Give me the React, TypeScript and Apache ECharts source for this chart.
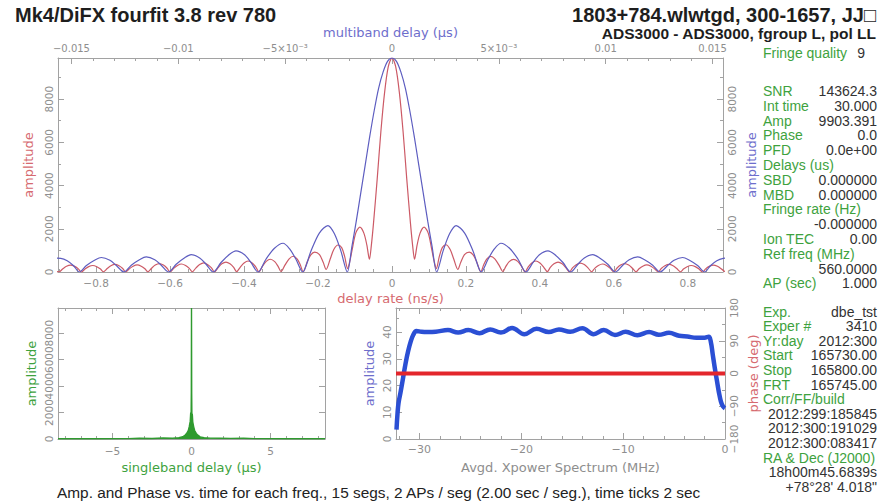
import React, { useEffect, useRef } from "react";
import * as echarts from "echarts";

// Peak correlation amplitude (also the top of the amplitude axes)
const AMP_MAX = 9903.391;

// Multiband delay function: [delay (µs), amplitude]
const mbdCurve: [number, number][] = [
  [-0.0158, 640], [-0.0155, 630], [-0.0152, 520], [-0.0149, 290], [-0.01463, 0],
  [-0.0143, 300], [-0.0139, 555], [-0.0136, 670], [-0.0132, 545], [-0.0129, 300], [-0.01254, 0],
  [-0.0122, 315], [-0.0118, 580], [-0.0115, 700], [-0.0111, 570], [-0.0108, 315], [-0.01045, 0],
  [-0.0101, 360], [-0.0097, 660], [-0.0094, 800], [-0.009, 650], [-0.0087, 360], [-0.00836, 0],
  [-0.008, 440], [-0.0076, 820], [-0.0073, 980], [-0.0069, 800], [-0.0066, 440], [-0.00627, 0],
  [-0.0059, 590], [-0.0055, 1100], [-0.0051, 1330], [-0.0048, 1080], [-0.0045, 600], [-0.00418, 0],
  [-0.0038, 950], [-0.0034, 1800], [-0.003, 2150], [-0.0027, 1780], [-0.0024, 1000], [-0.00209, 0],
  [-0.001881, 1150], [-0.001672, 2350], [-0.001463, 3650], [-0.001254, 4950], [-0.001045, 6250],
  [-0.000836, 7450], [-0.000627, 8500], [-0.000418, 9250], [-0.000209, 9750], [0, 9903],
  [0.000209, 9750], [0.000418, 9250], [0.000627, 8500], [0.000836, 7450], [0.001045, 6250],
  [0.001254, 4950], [0.001463, 3650], [0.001672, 2350], [0.001881, 1150], [0.00209, 0],
  [0.0024, 1000], [0.0027, 1780], [0.003, 2150], [0.0034, 1800], [0.0038, 950], [0.00418, 0],
  [0.0045, 600], [0.0048, 1080], [0.0051, 1330], [0.0055, 1100], [0.0059, 590], [0.00627, 0],
  [0.0066, 440], [0.0069, 800], [0.0073, 980], [0.0076, 820], [0.008, 440], [0.00836, 0],
  [0.0087, 360], [0.009, 650], [0.0094, 800], [0.0097, 660], [0.0101, 360], [0.01045, 0],
  [0.0108, 315], [0.0111, 570], [0.0115, 700], [0.0118, 580], [0.0122, 315], [0.01254, 0],
  [0.0129, 300], [0.0132, 545], [0.0136, 670], [0.0139, 555], [0.0143, 300], [0.01463, 0],
  [0.0149, 290], [0.0152, 520], [0.0155, 630], [0.0158, 650],
];

// Delay-rate function: [delay rate (ns/s), amplitude]
const rateCurve: [number, number][] = [
  [-0.91, 20], [-0.9, 10], [-0.89, 150], [-0.88, 265], [-0.869, 315], [-0.858, 260], [-0.848, 145], [-0.84, 0],
  [-0.83, 135], [-0.82, 250], [-0.809, 300], [-0.798, 245], [-0.788, 135], [-0.78, 10],
  [-0.77, 160], [-0.76, 290], [-0.749, 350], [-0.738, 290], [-0.728, 160], [-0.72, 0],
  [-0.71, 150], [-0.7, 270], [-0.689, 330], [-0.678, 270], [-0.668, 150], [-0.66, 10],
  [-0.65, 175], [-0.64, 320], [-0.629, 390], [-0.618, 320], [-0.608, 175], [-0.6, 0],
  [-0.59, 170], [-0.58, 305], [-0.569, 370], [-0.558, 300], [-0.548, 170], [-0.54, 10],
  [-0.53, 190], [-0.52, 345], [-0.509, 420], [-0.498, 340], [-0.488, 190], [-0.48, 0],
  [-0.47, 205], [-0.46, 380], [-0.449, 460], [-0.438, 380], [-0.428, 210], [-0.42, 15],
  [-0.41, 230], [-0.4, 420], [-0.389, 510], [-0.378, 420], [-0.368, 230], [-0.36, 0],
  [-0.35, 270], [-0.34, 490], [-0.329, 590], [-0.317, 480], [-0.308, 260], [-0.3, 20],
  [-0.289, 330], [-0.278, 610], [-0.267, 730], [-0.256, 600], [-0.248, 330], [-0.24, 0],
  [-0.23, 430], [-0.22, 780], [-0.209, 920], [-0.196, 800], [-0.186, 450], [-0.178, 120],
  [-0.167, 600], [-0.157, 1050], [-0.146, 1250], [-0.136, 1130], [-0.128, 720], [-0.12, 160],
  [-0.114, 500], [-0.108, 1000], [-0.098, 1800], [-0.087, 2076], [-0.076, 1800], [-0.068, 1250],
  [-0.061, 590], [-0.056, 1200], [-0.05, 2250], [-0.04, 4300], [-0.03, 6500], [-0.02, 8300],
  [-0.01, 9500], [0, 9903],
  [0.01, 9500], [0.02, 8300], [0.03, 6500], [0.04, 4300], [0.05, 2250], [0.056, 1200], [0.061, 590],
  [0.068, 1250], [0.076, 1800], [0.087, 2076], [0.098, 1800], [0.108, 1000], [0.114, 500], [0.12, 160],
  [0.128, 720], [0.136, 1130], [0.146, 1260], [0.157, 1050], [0.167, 600], [0.178, 120],
  [0.186, 450], [0.196, 800], [0.209, 920], [0.22, 780], [0.23, 430], [0.24, 0],
  [0.248, 330], [0.256, 600], [0.267, 724], [0.278, 610], [0.289, 330], [0.3, 20],
  [0.308, 260], [0.317, 480], [0.329, 585], [0.34, 490], [0.35, 270], [0.36, 0],
  [0.368, 230], [0.378, 420], [0.389, 510], [0.4, 420], [0.41, 230], [0.42, 15],
  [0.428, 210], [0.438, 380], [0.449, 460], [0.46, 380], [0.47, 205], [0.48, 0],
  [0.488, 190], [0.498, 340], [0.509, 415], [0.52, 345], [0.53, 190], [0.54, 10],
  [0.548, 170], [0.558, 300], [0.569, 370], [0.58, 305], [0.59, 170], [0.6, 0],
  [0.608, 175], [0.618, 320], [0.629, 390], [0.64, 320], [0.65, 175], [0.66, 10],
  [0.668, 150], [0.678, 270], [0.689, 330], [0.7, 270], [0.71, 150], [0.72, 0],
  [0.728, 160], [0.738, 290], [0.749, 350], [0.76, 290], [0.77, 160], [0.78, 10],
  [0.788, 135], [0.798, 245], [0.809, 300], [0.82, 250], [0.83, 135], [0.84, 0],
  [0.848, 145], [0.858, 260], [0.869, 320], [0.88, 265], [0.89, 150], [0.9, 10],
];

// Singleband delay function: [delay (µs), amplitude]
const sbdCurve: [number, number][] = [
  [-8.45, 15], [-6, 20], [-4, 25], [-3.3, 60], [-2.5, 40], [-1.8, 70], [-1.2, 60], [-0.8, 100],
  [-0.55, 170], [-0.4, 300], [-0.3, 430], [-0.2, 650], [-0.14, 950], [-0.08, 1350], [-0.05, 2000],
  [-0.03, 1100], [-0.012, 3500], [0, 9903], [0.012, 3500], [0.03, 1100], [0.05, 1900], [0.08, 1300],
  [0.14, 920], [0.2, 640], [0.3, 420], [0.4, 290], [0.55, 160], [0.8, 95], [1.2, 65], [1.8, 60],
  [2.5, 45], [3.3, 55], [4, 25], [6, 20], [8.45, 15],
];

// Averaged cross-power spectrum amplitude: [frequency (MHz), amplitude]
const spectrumAmp: [number, number][] = [
  [-32.25, 3.5], [-32.15, 9.6], [-32.05, 13.5], [-31.85, 17.5], [-31.6, 23], [-31.35, 28.5],
  [-31.1, 33], [-30.85, 36.5], [-30.6, 39], [-30.3, 40.4], [-29.8, 40.1], [-29.2, 40.0],
  [-28.4, 40.1], [-27.2, 40.75], [-26.2, 39.8], [-25.2, 40.75], [-24.1, 39.6], [-23.05, 41.0],
  [-22.0, 39.8], [-20.9, 41.5], [-19.7, 39.2], [-18.5, 41.25], [-17.3, 40.0], [-16.3, 41.0],
  [-15.2, 40.1], [-14.0, 41.4], [-12.9, 39.2], [-11.9, 40.75], [-10.8, 38.9], [-9.75, 40.1],
  [-8.6, 38.8], [-7.45, 40.0], [-6.5, 39.0], [-5.5, 39.7], [-4.5, 38.6], [-3.7, 38.3],
  [-2.8, 37.9], [-2.0, 37.9], [-1.6, 38.2], [-1.4, 36.5], [-1.2, 31.5], [-1.0, 26.5],
  [-0.8, 22], [-0.6, 17.5], [-0.4, 14], [-0.2, 12.2], [0, 11.5],
];

// Averaged cross-power spectrum phase: [frequency (MHz), phase (deg)]
const spectrumPhase: [number, number][] = [
  [-32.3, 0], [-24, 0], [-16, 0], [-8, 0], [0, 0],
];

// Top axis tick labels for the multiband delay scale
const mbdTickLabels: [number, string][] = [
  [-0.015, "\u22120.015"], [-0.01, "\u22120.01"], [-0.005, "\u22125\u00d710\u207b\u00b3"],
  [0, "0"], [0.005, "5\u00d710\u207b\u00b3"], [0.01, "0.01"], [0.015, "0.015"],
];

// Fit summary panel
const panelUpper: [string, string][] = [
  ["SNR", "143624.3"], ["Int time", "30.000"], ["Amp", "9903.391"], ["Phase", "0.0"],
  ["PFD", "0.0e+00"], ["Delays (us)", ""], ["SBD", "0.000000"], ["MBD", "0.000000"],
  ["Fringe rate (Hz)", ""], ["", "-0.000000"], ["Ion TEC", "0.00"], ["Ref freq (MHz)", ""],
  ["", "560.0000"], ["AP (sec)", "1.000"],
];
const panelLower: [string, string][] = [
  ["Exp.", "dbe_tst"], ["Exper #", "3410"], ["Yr:day", "2012:300"], ["Start", "165730.00"],
  ["Stop", "165800.00"], ["FRT", "165745.00"], ["Corr/FF/build", ""], ["", "2012:299:185845"],
  ["", "2012:300:191029"], ["", "2012:300:083417"], ["RA & Dec (J2000)", ""],
  ["", "18h00m45.6839s"], ["", "+78\u00b028' 4.018\""],
];

const TITLE = "Mk4/DiFX fourfit 3.8 rev 780";
const SOURCE = "1803+784.wlwtgd, 300-1657, JJ\u25a1";
const BASELINE = "ADS3000 - ADS3000, fgroup L, pol LL";
const FOOTER =
  "Amp. and Phase vs. time for each freq., 15 segs, 2 APs / seg (2.00 sec / seg.), time ticks 2 sec";

const RED_LINE = "#cc5a66";
const BLUE_LINE = "#5d5dc0";
const RED_TEXT = "#d66a70";
const BLUE_TEXT = "#6e6ecc";
const GREEN_TEXT = "#3ea23e";
const GREEN_LINE = "#2f9a2f";
const GREY = "#8e8e8e";
const FRAME = "#a2a2a2";
const PLOT_FONT = "DejaVu Sans";
const TEXT_FONT = "Liberation Sans";

const minus = (v: number) => String(v).replace("-", "\u2212");

function frameAxis(extra: any) {
  return {
    type: "value",
    axisLine: { show: true, onZero: false, lineStyle: { color: FRAME, width: 1 } },
    axisTick: { show: true, inside: true, length: 6, lineStyle: { color: FRAME } },
    minorTick: { show: false },
    splitLine: { show: false },
    axisLabel: {
      color: GREY,
      fontFamily: PLOT_FONT,
      fontSize: 10.5,
      showMinLabel: false,
      showMaxLabel: false,
      formatter: minus,
    },
    nameTextStyle: { fontFamily: PLOT_FONT, fontSize: 13 },
    ...extra,
  };
}

function panelTexts(rows: [string, string][], top: number, step: number) {
  const out: any[] = [];
  rows.forEach(([label, value], i) => {
    const y = top + i * step;
    if (label)
      out.push({
        type: "text",
        x: 763,
        y,
        style: { text: label, fill: GREEN_TEXT, fontFamily: TEXT_FONT, fontSize: 14, align: "left", verticalAlign: "middle" },
      });
    if (value)
      out.push({
        type: "text",
        x: 877,
        y,
        style: { text: value, fill: "#333", fontFamily: TEXT_FONT, fontSize: 14, align: "right", verticalAlign: "middle" },
      });
  });
  return out;
}

export default function App() {
  const ref = useRef<HTMLDivElement>(null);

  useEffect(() => {
    if (!ref.current) return;
    const chart = echarts.init(ref.current, undefined, { renderer: "svg" });

    const option: any = {
      animation: false,
      backgroundColor: "#ffffff",
      grid: [
        { left: 58, top: 58, width: 665, height: 214 },
        { left: 58, top: 308, width: 267, height: 131 },
        { left: 396, top: 308, width: 329, height: 131 },
      ],
      xAxis: [
        frameAxis({
          gridIndex: 0, position: "bottom", min: -0.903, max: 0.895, splitNumber: 9,
          minorTick: { show: true, splitNumber: 4, length: 3, lineStyle: { color: FRAME } },
          name: "delay rate (ns/s)", nameLocation: "middle", nameGap: 20,
          nameTextStyle: { fontFamily: PLOT_FONT, fontSize: 13, color: RED_TEXT },
          axisLabel: { color: GREY, fontFamily: PLOT_FONT, fontSize: 10.5, margin: 5, showMinLabel: false, showMaxLabel: false, formatter: minus },
        }),
        frameAxis({
          gridIndex: 0, position: "top", min: -0.01563, max: 0.01549, splitNumber: 6,
          minorTick: { show: true, splitNumber: 5, length: 3, lineStyle: { color: FRAME } },
          name: "multiband delay (\u00b5s)", nameLocation: "middle", nameGap: 19,
          nameTextStyle: { fontFamily: PLOT_FONT, fontSize: 13, color: BLUE_TEXT },
          axisLabel: {
            color: GREY, fontFamily: PLOT_FONT, fontSize: 10, margin: 5, showMinLabel: false, showMaxLabel: false,
            formatter: (v: number) => {
              const hit = mbdTickLabels.find(([t]) => Math.abs(t - v) < 1e-7);
              return hit ? hit[1] : "";
            },
          },
        }),
        frameAxis({
          gridIndex: 1, position: "bottom", min: -8.45, max: 8.45, splitNumber: 4,
          minorTick: { show: true, splitNumber: 5, length: 3, lineStyle: { color: FRAME } },
          name: "singleband delay (\u00b5s)", nameLocation: "middle", nameGap: 22,
          nameTextStyle: { fontFamily: PLOT_FONT, fontSize: 13, color: GREEN_TEXT },
          axisLabel: { color: GREY, fontFamily: PLOT_FONT, fontSize: 10.5, margin: 6, showMinLabel: false, showMaxLabel: false, formatter: minus },
        }),
        frameAxis({
          gridIndex: 1, position: "top", min: -8.45, max: 8.45, splitNumber: 4,
          minorTick: { show: true, splitNumber: 5, length: 3, lineStyle: { color: FRAME } },
          axisLabel: { show: false },
        }),
        frameAxis({
          gridIndex: 2, position: "bottom", min: -32.3, max: 0, splitNumber: 3,
          minorTick: { show: true, splitNumber: 5, length: 3, lineStyle: { color: FRAME } },
          name: "Avgd. Xpower Spectrum (MHz)", nameLocation: "middle", nameGap: 22,
          nameTextStyle: { fontFamily: PLOT_FONT, fontSize: 13, color: GREY },
          axisLabel: { color: GREY, fontFamily: PLOT_FONT, fontSize: 11, margin: 5, showMinLabel: false, showMaxLabel: true, formatter: minus },
        }),
        frameAxis({
          gridIndex: 2, position: "top", min: -32.3, max: 0, splitNumber: 3,
          minorTick: { show: true, splitNumber: 5, length: 3, lineStyle: { color: FRAME } },
          axisLabel: { show: false },
        }),
      ],
      yAxis: [
        frameAxis({
          gridIndex: 0, position: "left", min: 0, max: AMP_MAX, splitNumber: 5,
          minorTick: { show: true, splitNumber: 2, length: 3, lineStyle: { color: FRAME } },
          name: "amplitude", nameLocation: "middle", nameGap: 20,
          nameTextStyle: { fontFamily: PLOT_FONT, fontSize: 13, color: RED_TEXT },
          axisLabel: { color: GREY, fontFamily: PLOT_FONT, fontSize: 10.5, rotate: 90, margin: 4, showMaxLabel: false, formatter: minus },
        }),
        frameAxis({
          gridIndex: 0, position: "right", min: 0, max: AMP_MAX, splitNumber: 5,
          minorTick: { show: true, splitNumber: 2, length: 3, lineStyle: { color: FRAME } },
          name: "amplitude", nameLocation: "middle", nameGap: 22,
          nameTextStyle: { fontFamily: PLOT_FONT, fontSize: 13, color: BLUE_TEXT },
          axisLabel: { color: GREY, fontFamily: PLOT_FONT, fontSize: 10.5, rotate: 90, margin: 3, showMaxLabel: false, formatter: minus },
        }),
        frameAxis({
          gridIndex: 1, position: "left", min: 0, max: AMP_MAX, splitNumber: 5,
          name: "amplitude", nameLocation: "middle", nameGap: 20,
          nameTextStyle: { fontFamily: PLOT_FONT, fontSize: 13, color: GREEN_TEXT },
          axisLabel: { color: GREY, fontFamily: PLOT_FONT, fontSize: 10.5, rotate: 90, margin: 4, showMaxLabel: false, formatter: minus },
        }),
        frameAxis({
          gridIndex: 1, position: "right", min: 0, max: AMP_MAX, splitNumber: 5,
          axisLabel: { show: false },
        }),
        frameAxis({
          gridIndex: 2, position: "left", min: 0, max: 49, interval: 10,
          minorTick: { show: true, splitNumber: 2, length: 3, lineStyle: { color: FRAME } },
          name: "amplitude", nameLocation: "middle", nameGap: 20,
          nameTextStyle: { fontFamily: PLOT_FONT, fontSize: 13, color: BLUE_TEXT },
          axisLabel: { color: GREY, fontFamily: PLOT_FONT, fontSize: 10.5, rotate: 90, margin: 4, showMaxLabel: false, formatter: minus },
        }),
        frameAxis({
          gridIndex: 2, position: "right", min: -180, max: 180, interval: 90,
          minorTick: { show: true, splitNumber: 2, length: 3, lineStyle: { color: FRAME } },
          name: "phase (deg)", nameLocation: "middle", nameGap: 22,
          nameTextStyle: { fontFamily: PLOT_FONT, fontSize: 13, color: RED_TEXT },
          axisLabel: { color: GREY, fontFamily: PLOT_FONT, fontSize: 10.5, rotate: 90, margin: 3, showMinLabel: true, showMaxLabel: true, formatter: minus },
        }),
      ],
      series: [
        {
          type: "line", xAxisIndex: 0, yAxisIndex: 0, data: rateCurve, showSymbol: false,
          smooth: 0.3, lineStyle: { color: RED_LINE, width: 1.2 }, z: 3,
        },
        {
          type: "line", xAxisIndex: 1, yAxisIndex: 0, data: mbdCurve, showSymbol: false,
          smooth: 0.3, lineStyle: { color: BLUE_LINE, width: 1.2 }, z: 4,
        },
        {
          type: "line", xAxisIndex: 2, yAxisIndex: 2, data: sbdCurve, showSymbol: false,
          lineStyle: { color: GREEN_LINE, width: 1.4 }, areaStyle: { color: GREEN_LINE, opacity: 1 }, z: 3,
        },
        {
          type: "line", xAxisIndex: 4, yAxisIndex: 4, data: spectrumAmp, showSymbol: false,
          smooth: 0.4, lineStyle: { color: "#2b4fd4", width: 4.5 }, z: 3,
        },
        {
          type: "line", xAxisIndex: 4, yAxisIndex: 5, data: spectrumPhase, showSymbol: false,
          lineStyle: { color: "#e3262c", width: 4 }, z: 4,
        },
      ],
      graphic: [
        {
          type: "text", x: 15, y: 15,
          style: { text: TITLE, fill: "#1e1e1e", fontFamily: TEXT_FONT, fontWeight: "bold", fontSize: 20, align: "left", verticalAlign: "middle" },
        },
        {
          type: "text", x: 876, y: 15,
          style: { text: SOURCE, fill: "#1e1e1e", fontFamily: TEXT_FONT, fontWeight: "bold", fontSize: 20, align: "right", verticalAlign: "middle" },
        },
        {
          type: "text", x: 876, y: 33,
          style: { text: BASELINE, fill: "#1e1e1e", fontFamily: TEXT_FONT, fontWeight: "bold", fontSize: 15.5, align: "right", verticalAlign: "middle" },
        },
        {
          type: "text", x: 763, y: 53,
          style: { text: "Fringe quality", fill: GREEN_TEXT, fontFamily: TEXT_FONT, fontSize: 14, align: "left", verticalAlign: "middle" },
        },
        {
          type: "text", x: 865, y: 53,
          style: { text: "9", fill: "#333", fontFamily: TEXT_FONT, fontSize: 14, align: "right", verticalAlign: "middle" },
        },
        ...panelTexts(panelUpper, 91, 14.8),
        ...panelTexts(panelLower, 311.7, 14.58),
        {
          type: "text", x: 57, y: 492,
          style: { text: FOOTER, fill: "#222", fontFamily: TEXT_FONT, fontSize: 15.4, align: "left", verticalAlign: "middle" },
        },
      ],
    };

    chart.setOption(option);
    return () => chart.dispose();
  }, []);

  return (
    <div
      ref={ref}
      style={{ position: "fixed", left: 0, top: 0, width: 883, height: 501, background: "#fff" }}
    />
  );
}
